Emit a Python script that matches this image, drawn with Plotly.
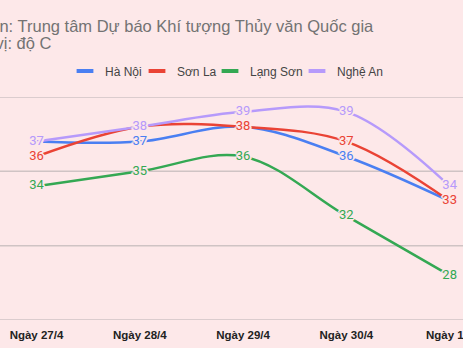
import plotly.graph_objects as go

# Forecast max temperatures (°C) by day and province
days = ["Ngày 27/4", "Ngày 28/4", "Ngày 29/4", "Ngày 30/4", "Ngày 1/5"]
ha_noi = [37, 37, 38, 36, 33]
son_la = [36, 38, 38, 37, 33]
lang_son = [34, 35, 36, 32, 28]
nghe_an = [37, 38, 39, 39, 34]
grid_values = [25, 30, 35, 40]

series = [
    ("Hà Nội", ha_noi, "#4a7ff2"),
    ("Sơn La", son_la, "#ea4335"),
    ("Lạng Sơn", lang_son, "#34a853"),
    ("Nghệ An", nghe_an, "#b69afb"),
]
# left edge (px) of each legend entry's text
legend_text_x = [103, 175, 248, 335]

BG = "#fde8e9"
GRID = "#cfc3c4"
W, H = 463, 348
halo = ", ".join(f"{dx}px {dy}px 0 {BG}" for dx, dy in
                 [(2, 0), (-2, 0), (0, 2), (0, -2), (1, 1), (-1, -1), (1, -1), (-1, 1)])

fig = go.Figure()
for name, vals, color in series:
    fig.add_trace(go.Scatter(
        x=days, y=vals, mode="lines+text", name=name,
        line=dict(color=color, width=2.5, shape="spline", smoothing=1),
        text=[str(v) for v in vals], textposition="middle center",
        textfont=dict(family="Roboto, Arial, sans-serif", size=13, color=color, shadow=halo),
        showlegend=False, cliponaxis=False,
    ))

# one small legend per series so each key sits at its own spot
legend_layouts = {}
for i, (name, vals, color) in enumerate(series):
    key = "legend" if i == 0 else f"legend{i + 1}"
    fig.add_trace(go.Scatter(
        x=[None], y=[None], mode="markers", name=name, legend=key,
        marker=dict(symbol="line-ew-open", size=12, color=color, line=dict(color=color, width=4)),
        showlegend=True,
    ))
    legend_layouts[key] = dict(
        orientation="h", x=(legend_text_x[i] - 38) / W, xanchor="left",
        xref="container", y=(H - 71) / H, yanchor="middle", yref="container",
        font=dict(family="Arial, Liberation Sans, sans-serif", size=12, color="#444444"),
        bgcolor="rgba(0,0,0,0)", borderwidth=0, itemwidth=30,
    )

# horizontal grid lines
for g in grid_values:
    fig.add_hline(y=g, line=dict(color=GRID, width=1.5), layer="below")

title_font = dict(family="Arial, Liberation Sans, sans-serif", size=16.5, color="#737373")

fig.update_layout(
    width=W, height=H,
    paper_bgcolor=BG, plot_bgcolor="rgba(0,0,0,0)",
    margin=dict(l=0, r=0, t=97, b=28),
    showlegend=True,
    xaxis=dict(type="category", range=[-0.353, 4.129], showgrid=False, zeroline=False,
               showline=False, ticks="outside", ticklen=4, tickcolor="rgba(0,0,0,0)",
               tickfont=dict(family="Arial, Liberation Sans, sans-serif", size=11.5, color="#222222",
                             weight="bold"),
               automargin=False, fixedrange=True),
    yaxis=dict(range=[25, 40], showgrid=False, zeroline=False, showticklabels=False,
               showline=False, automargin=False, fixedrange=True),
    annotations=[
        dict(text="Nguồn: Trung tâm Dự báo Khí tượng Thủy văn Quốc gia", xref="paper", yref="paper",
             x=376 / W, y=1 + (97 - 26) / 223, xanchor="right", yanchor="middle", showarrow=False,
             font=title_font),
        dict(text="Đơn vị: độ C", xref="paper", yref="paper",
             x=54 / W, y=1 + (97 - 43) / 223, xanchor="right", yanchor="middle", showarrow=False,
             font=title_font),
    ],
)
fig.update_layout(**legend_layouts)

fig.write_html("out.html")
